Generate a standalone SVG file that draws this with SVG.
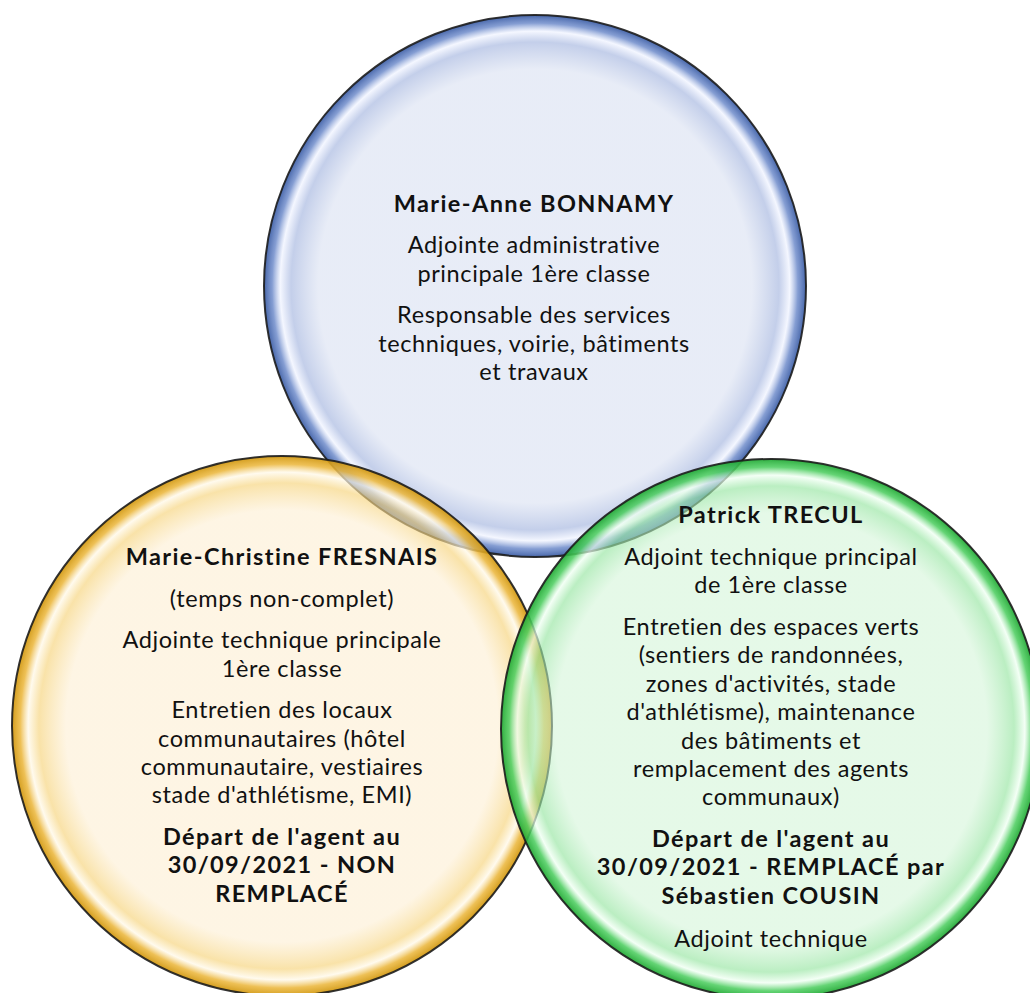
<svg xmlns="http://www.w3.org/2000/svg" width="1030" height="993" viewBox="0 0 1030 993">
  <style>
    .t { font-family: Lato, "Open Sans", "Liberation Sans", sans-serif; font-size: 23.5px; letter-spacing: 0.6px; fill: #111; text-anchor: middle; }
    .b { font-weight: bold; letter-spacing: 1.4px; }
    .ring { stroke: #1c1c1c; stroke-width: 2; stroke-opacity: 0.9; }
  </style>
  <defs>
    <radialGradient id="gBlue" cx="50%" cy="50%" r="50%">
      <stop offset="0" stop-color="#D5DDF0" stop-opacity="0.55"/>
      <stop offset="0.80" stop-color="#D5DDF0" stop-opacity="0.55"/>
      <stop offset="0.90" stop-color="#9FB1DD" stop-opacity="0.62"/>
      <stop offset="0.94" stop-color="#EEF2FF" stop-opacity="0.65"/>
      <stop offset="0.97" stop-color="#6A88C9" stop-opacity="0.82"/>
      <stop offset="1" stop-color="#385AA3" stop-opacity="0.92"/>
    </radialGradient>
    <radialGradient id="gYellow" cx="50%" cy="50%" r="50%">
      <stop offset="0" stop-color="#FDEDCE" stop-opacity="0.55"/>
      <stop offset="0.80" stop-color="#FDEDCE" stop-opacity="0.55"/>
      <stop offset="0.90" stop-color="#F6D37A" stop-opacity="0.65"/>
      <stop offset="0.94" stop-color="#FFF8E6" stop-opacity="0.7"/>
      <stop offset="0.97" stop-color="#EBB63A" stop-opacity="0.86"/>
      <stop offset="1" stop-color="#D0960E" stop-opacity="0.93"/>
    </radialGradient>
    <radialGradient id="gGreen" cx="50%" cy="50%" r="50%">
      <stop offset="0" stop-color="#D0F4D5" stop-opacity="0.55"/>
      <stop offset="0.80" stop-color="#D0F4D5" stop-opacity="0.55"/>
      <stop offset="0.90" stop-color="#96E5A1" stop-opacity="0.65"/>
      <stop offset="0.94" stop-color="#EEFFF1" stop-opacity="0.7"/>
      <stop offset="0.97" stop-color="#4BCD5E" stop-opacity="0.86"/>
      <stop offset="1" stop-color="#20A833" stop-opacity="0.93"/>
    </radialGradient>
  </defs>

  <g id="connectors"/>

  <g id="node-bonnamy">
    <circle class="ring" cx="535" cy="286" r="271" fill="url(#gBlue)"/>
    <text class="t b" x="534" y="211.7">Marie-Anne BONNAMY</text>
    <text class="t" x="534" y="253.3">Adjointe administrative</text>
    <text class="t" x="534" y="281.7">principale 1ère classe</text>
    <text class="t" x="534" y="323.3">Responsable des services</text>
    <text class="t" x="534" y="351.7">techniques, voirie, bâtiments</text>
    <text class="t" x="534" y="380">et travaux</text>
  </g>

  <g id="node-fresnais">
    <circle class="ring" cx="282" cy="726" r="270" fill="url(#gYellow)"/>
    <text class="t b" x="282" y="565">Marie-Christine FRESNAIS</text>
    <text class="t" x="282" y="606.6">(temps non-complet)</text>
    <text class="t" x="282" y="648.2">Adjointe technique principale</text>
    <text class="t" x="282" y="676.6">1ère classe</text>
    <text class="t" x="282" y="718.2">Entretien des locaux</text>
    <text class="t" x="282" y="746.6">communautaires (hôtel</text>
    <text class="t" x="282" y="775">communautaire, vestiaires</text>
    <text class="t" x="282" y="803.4">stade d'athlétisme, EMI)</text>
    <text class="t b" x="282" y="845">Départ de l'agent au</text>
    <text class="t b" x="282" y="873.4">30/09/2021 - NON</text>
    <text class="t b" x="282" y="901.8">REMPLACÉ</text>
  </g>

  <g id="node-trecul">
    <circle class="ring" cx="771" cy="729" r="270" fill="url(#gGreen)"/>
    <text class="t b" x="771" y="523.3">Patrick TRECUL</text>
    <text class="t" x="771" y="565">Adjoint technique principal</text>
    <text class="t" x="771" y="593.3">de 1ère classe</text>
    <text class="t" x="771" y="635">Entretien des espaces verts</text>
    <text class="t" x="771" y="663.4">(sentiers de randonnées,</text>
    <text class="t" x="771" y="691.8">zones d'activités, stade</text>
    <text class="t" x="771" y="720.2">d'athlétisme), maintenance</text>
    <text class="t" x="771" y="748.6">des bâtiments et</text>
    <text class="t" x="771" y="777">remplacement des agents</text>
    <text class="t" x="771" y="805.4">communaux)</text>
    <text class="t b" x="771" y="847">Départ de l'agent au</text>
    <text class="t b" x="771" y="875.4">30/09/2021 - REMPLACÉ par</text>
    <text class="t b" x="771" y="903.8">Sébastien COUSIN</text>
    <text class="t" x="771" y="946.5">Adjoint technique</text>
  </g>
</svg>
